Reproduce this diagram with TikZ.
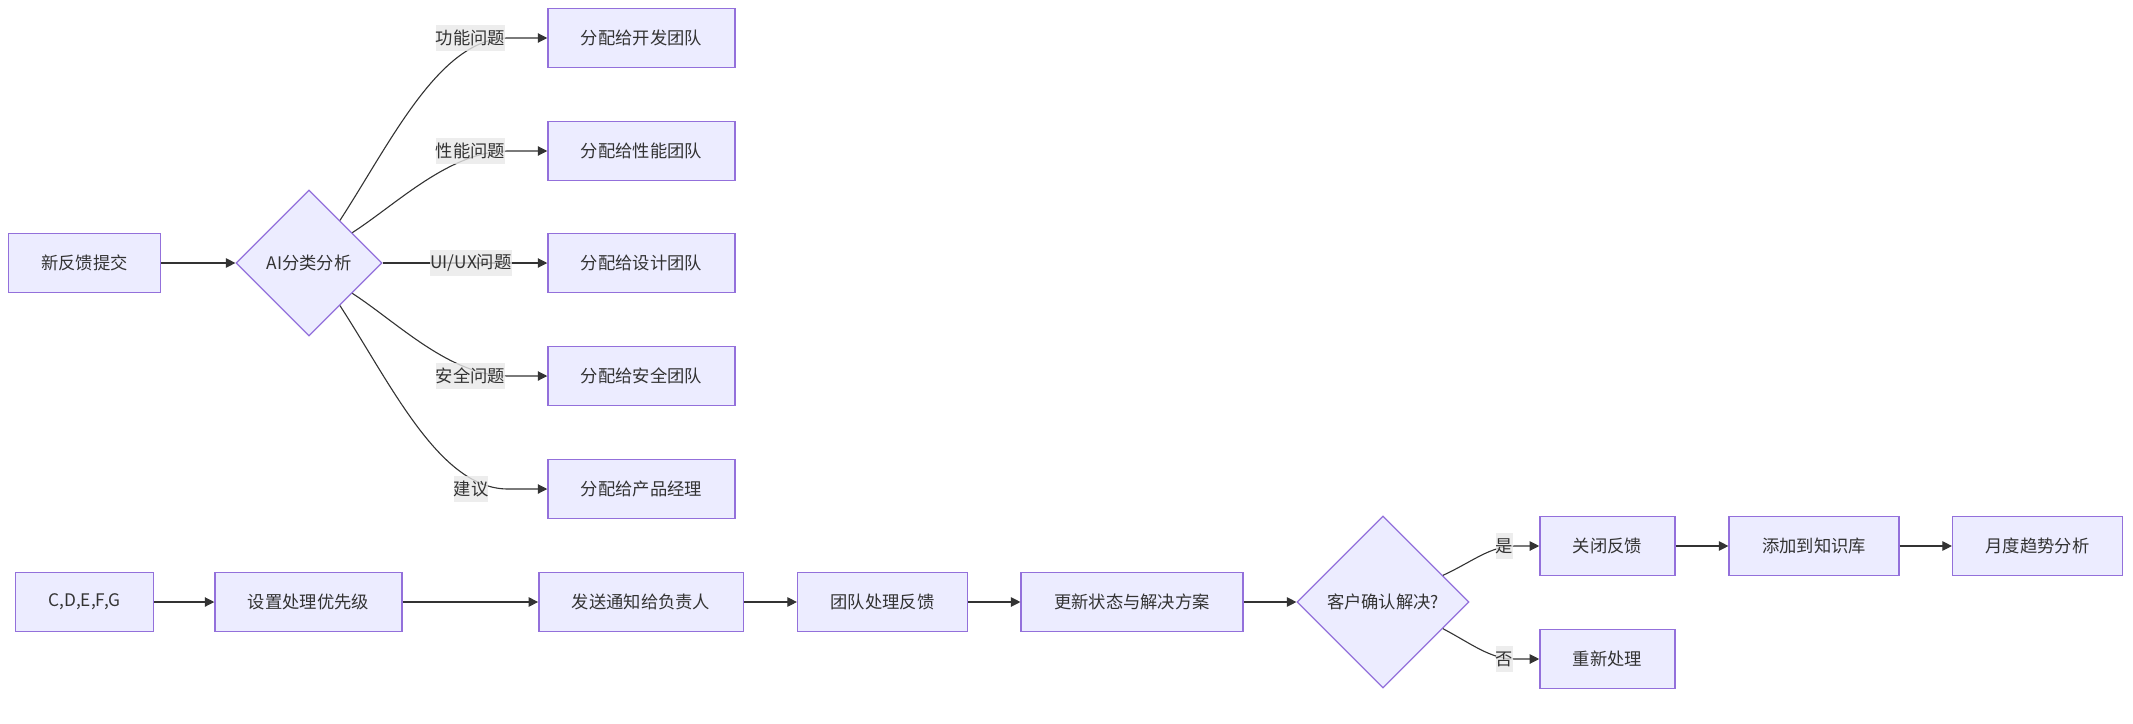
\documentclass[tikz,border=0pt]{standalone}
\usepackage{fontspec}
\setmainfont{Noto Sans CJK SC}
\usetikzlibrary{arrows.meta,shapes.geometric}
\definecolor{boxfill}{HTML}{ECECFF}
\definecolor{boxline}{HTML}{9370DB}
\definecolor{edgeline}{HTML}{333333}
\definecolor{lblfill}{HTML}{E8E8E8}
\begin{document}
\begin{tikzpicture}[x=1pt,y=-1pt,>={Triangle[length=9.5pt,width=9.5pt]},
		every node/.style={font=\fontsize{17.3}{20}\selectfont,text=edgeline},
		box/.style={rectangle,draw=boxline,fill=boxfill,line width=1.4pt,inner xsep=33pt,inner ysep=0pt,minimum height=59pt},
		decide/.style={diamond,aspect=1,draw=boxline,fill=boxfill,line width=1.2pt,inner sep=0pt},
		lbl/.style={fill=lblfill,fill opacity=0.8,text opacity=1,inner xsep=0pt,inner ysep=0pt,minimum height=26pt},
		edge/.style={->,draw=edgeline,line width=1.1pt}]
		
		\useasboundingbox (0,0) rectangle (2133,723);
		
		\node[box] (submit) at (84.5,263) {新反馈提交};
		\node[decide,minimum size=146pt] (ai) at (309,263) {AI分类分析};
		\node[box] (dev) at (641.5,38) {分配给开发团队};
		\node[box] (perf) at (641.5,151) {分配给性能团队};
		\node[box] (design) at (641.5,263) {分配给设计团队};
		\node[box] (sec) at (641.5,376) {分配给安全团队};
		\node[box] (pm) at (641.5,489) {分配给产品经理};
		
		\node[box] (merge) at (84.5,602) {C,D,E,F,G};
		\node[box] (prio) at (308.5,602) {设置处理优先级};
		\node[box] (notify) at (641,602) {发送通知给负责人};
		\node[box] (team) at (882.5,602) {团队处理反馈};
		\node[box] (update) at (1132,602) {更新状态与解决方案};
		\node[decide,minimum size=172pt] (confirm) at (1383,602) {客户确认解决?};
		\node[box] (close) at (1607.5,546) {关闭反馈};
		\node[box] (kb) at (1814,546) {添加到知识库};
		\node[box] (trend) at (2037.5,546) {月度趋势分析};
		\node[box] (redo) at (1607.5,659) {重新处理};
		
		\coordinate (k1) at (508,38);
		\coordinate (k2) at (508,151);
		\coordinate (k4) at (508,376);
		\coordinate (k5) at (508,489);
		\coordinate (k6) at (1515,546);
		\coordinate (k7) at (1515,659);
		
		\draw[edge] (submit.east) -- (ai.west);
		\draw[edge] (ai.54) .. controls (392,140) and (440,38) .. (k1) -- (dev.west);
		\draw[edge] (ai.35) .. controls (398,203) and (450,151) .. (k2) -- (perf.west);
		\draw[edge] (ai.east) -- (design.west);
		\draw[edge] (ai.-35) .. controls (398,323) and (450,376) .. (k4) -- (sec.west);
		\draw[edge] (ai.-54) .. controls (392,386) and (440,489) .. (k5) -- (pm.west);
		
		\draw[edge] (merge.east) -- (prio.west);
		\draw[edge] (prio.east) -- (notify.west);
		\draw[edge] (notify.east) -- (team.west);
		\draw[edge] (team.east) -- (update.west);
		\draw[edge] (update.east) -- (confirm.west);
		\draw[edge] (confirm.24) .. controls (1472,562) and (1490,546) .. (k6) -- (close.west);
		\draw[edge] (confirm.-24) .. controls (1472,644) and (1490,659) .. (k7) -- (redo.west);
		\draw[edge] (close.east) -- (kb.west);
		\draw[edge] (kb.east) -- (trend.west);
		
		% edge labels sit on top of the lines
		\node[lbl] (l1) at (470.5,38) {功能问题};
		\node[lbl] (l2) at (470.5,151) {性能问题};
		\node[lbl] (l3) at (471,263) {UI/UX问题};
		\node[lbl] (l4) at (470.5,376) {安全问题};
		\node[lbl] (l5) at (471,489) {建议};
		\node[lbl] (l6) at (1504.5,546) {是};
		\node[lbl] (l7) at (1504.5,659) {否};
		\end{tikzpicture}
\end{document}
